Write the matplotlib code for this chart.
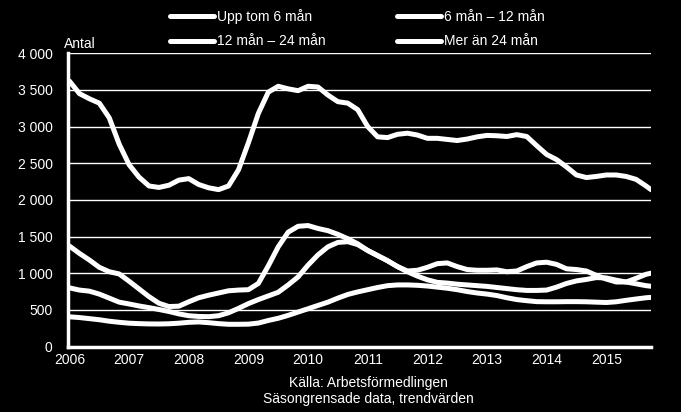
import matplotlib.pyplot as plt

plt.rcParams['font.family'] = ['Liberation Sans', 'DejaVu Sans']

# month index from Jan 2006, every second month, last point Oct 2015
months = list(range(0, 117, 2)) + [117]
years = ['2006', '2007', '2008', '2009', '2010', '2011', '2012', '2013', '2014', '2015']

upp_tom_6 = [3620, 3450, 3380, 3320, 3120, 2760, 2480, 2310, 2190, 2170,
             2200, 2270, 2290, 2210, 2165, 2140, 2190, 2410, 2780, 3180,
             3470, 3550, 3515, 3490, 3550, 3540, 3430, 3340, 3320, 3230,
             3000, 2860, 2850, 2895, 2910, 2885, 2840, 2840, 2825, 2810,
             2830, 2860, 2880, 2875, 2865, 2890, 2865, 2740, 2620, 2550,
             2450, 2340, 2305, 2320, 2340, 2340, 2320, 2280, 2190, 2140]

man_6_12 = [1370, 1270, 1180, 1080, 1020, 990, 890, 785, 680, 590,
            545, 550, 610, 665, 700, 730, 760, 770, 775, 860,
            1100, 1360, 1560, 1640, 1650, 1610, 1580, 1530, 1470, 1400,
            1310, 1240, 1170, 1090, 1030, 1040, 1080, 1130, 1140, 1090,
            1050, 1040, 1040, 1045, 1020, 1030, 1090, 1140, 1150, 1120,
            1060, 1050, 1030, 970, 920, 880, 880, 930, 985, 1000]

man_12_24 = [800, 770, 755, 715, 660, 605, 580, 553, 530, 505,
             478, 445, 420, 410, 407, 420, 460, 520, 585, 640,
             690, 740, 840, 950, 1110, 1250, 1360, 1420, 1430, 1390,
             1310, 1240, 1170, 1090, 1020, 960, 910, 875, 865, 850,
             840, 830, 820, 805, 790, 775, 765, 765, 770, 810,
             860, 895, 915, 940, 935, 905, 880, 855, 830, 822]

mer_an_24 = [405, 395, 380, 365, 345, 330, 318, 312, 308, 307,
             310, 318, 330, 335, 325, 312, 303, 303, 305, 320,
             355, 385, 425, 470, 515, 560, 605, 660, 710, 745,
             775, 805, 830, 840, 840, 835, 825, 810, 795, 775,
             750, 730, 715, 695, 665, 640, 625, 612, 610, 610,
             612, 612, 610, 605, 600, 610, 630, 648, 665, 670]

labels = ['Upp tom 6 mån', '6 mån – 12 mån', '12 mån – 24 mån', 'Mer än 24 mån']

fig = plt.figure(figsize=(6.81, 4.12), dpi=100, facecolor='black')
ax = fig.add_axes([68 / 681, 65.5 / 412, 583 / 681, 293.2 / 412])
ax.set_facecolor('black')

lines = []
for series, lab in zip([upp_tom_6, man_6_12, man_12_24, mer_an_24], labels):
    ln, = ax.plot(months, series, color='white', lw=3.6, label=lab,
                  solid_capstyle='round', solid_joinstyle='round', zorder=3)
    lines.append(ln)

ax.set_xlim(-0.3, 117)
ax.set_ylim(0, 4000)
ax.set_yticks(range(0, 4001, 500))
ax.set_yticklabels(['0' if v == 0 else f'{v // 1000} {v % 1000:03d}' if v >= 1000 else str(v)
                    for v in range(0, 4001, 500)])
ax.set_xticks(range(0, 109, 12))
ax.set_xticklabels(years)
ax.tick_params(colors='white', labelcolor='white', length=0, labelsize=10)
ax.tick_params(axis='y', pad=11)
ax.tick_params(axis='x', pad=5)

ax.grid(axis='y', color='white', lw=1.0)
ax.set_axisbelow(True)
for side in ['top', 'right']:
    ax.spines[side].set_visible(False)
for side in ['left', 'bottom']:
    ax.spines[side].set_color('white')
    ax.spines[side].set_linewidth(2.5)
    ax.spines[side].set_zorder(4)

fig.text(64 / 681, 1 - 44 / 412, 'Antal', color='white', fontsize=10, va='center', ha='left')

# legend order row by row: col 1 = first and third entry
order = [0, 2, 1, 3]
leg = fig.legend([lines[i] for i in order], [labels[i] for i in order],
                 loc='upper left', bbox_to_anchor=(170 / 681, 1 - 9 / 412),
                 ncol=2, frameon=False, fontsize=10, labelcolor='white',
                 handlelength=3.2, handletextpad=0.2, columnspacing=5.1,
                 labelspacing=0.75, borderpad=0, borderaxespad=0)

fig.text(368 / 681, 1 - 383 / 412, 'Källa: Arbetsförmedlingen', color='white',
         fontsize=10, ha='center', va='center')
fig.text(368 / 681, 1 - 399 / 412, 'Säsongrensade data, trendvärden', color='white',
         fontsize=10, ha='center', va='center')

fig.savefig('out.png', dpi=100, facecolor='black')
